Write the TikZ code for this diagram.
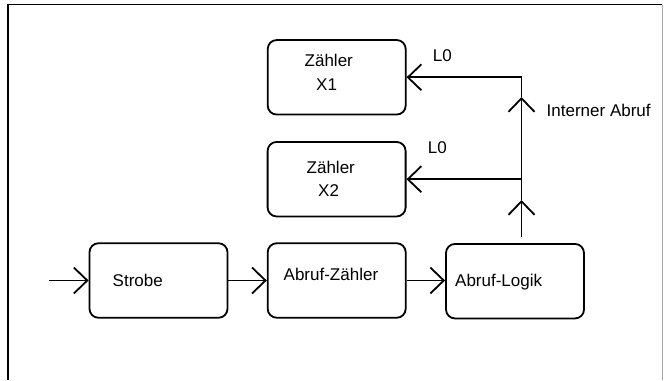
\documentclass[tikz,border=0pt]{standalone}
\usepackage{fontspec}
\setmainfont{Liberation Sans}
\usetikzlibrary{arrows.meta}

\tikzset{
  block/.style={draw, line width=1.8pt, rounded corners=9pt,
    minimum width=138pt, minimum height=74.5pt, inner sep=0pt},
  label/.style={inner sep=0pt, anchor=base west,
    font=\fontsize{17}{19}\selectfont},
  flow/.style={line width=1.8pt,
    -{Straight Barb[length=13.5pt, width=26pt]}},
  plain/.style={line width=1.8pt},
  frame/.style={line width=1.2pt}
}

\begin{document}
\begin{tikzpicture}[x=1pt, y=-1pt]
  \useasboundingbox (0,0) rectangle (666,380);

  % outer frame (left, top and a faint right edge)
  \draw[frame] (8,380) -- (8,4.5) -- (662,4.5);
  \draw[line width=0.6pt, black!35] (662,4.5) -- (662,380);

  % blocks
  \node[block] (x1)  at (336.7,77.3)  {};
  \node[block] (x2)  at (336.6,179.2) {};
  \node[block] (str) at (158.5,280.5) {};
  \node[block] (az)  at (336.7,280.5) {};
  \node[block] (al)  at (515,281.2)   {};

  % block texts
  \node[label] (t1a) at (304.5,66)    {Zähler};
  \node[label] (t1b) at (316,90.5)    {X1};
  \node[label] (t2a) at (306.5,173.5) {Zähler};
  \node[label] (t2b) at (318,196.5)   {X2};
  \node[label] (ts)  at (112.5,286.7) {Strobe};
  \node[label] (tz)  at (283.5,280)   {Abruf-Zähler};
  \node[label] (tl)  at (455,286.7)   {Abruf-Logik};

  % signal labels
  \node[label] (l01) at (432.7,61.7)  {L0};
  \node[label] (l02) at (427.7,153.3) {L0};
  \node[label] (ia)  at (546.5,116)   {Interner Abruf};

  % main chain
  \coordinate (in) at (49,280.5);
  \draw[flow] (in) -- (str.west);
  \draw[flow] (str.east) -- (az.west |- str.east);
  \draw[flow] (az.east) -- (al.west |- az.east);

  % internal request line going up to the counters
  \coordinate (vb) at (521.5,237);
  \coordinate (m2) at (521.5,200);
  \coordinate (j2) at (521.5,179.2);
  \coordinate (m1) at (521.5,97);
  \coordinate (j1) at (521.5,77.3);
  \draw[flow] (vb) -- (m2);
  \draw[flow] (m2) -- (m1);
  \draw[plain, line join=miter] (m1) -- (j1) -- (x1.east);
  \draw[flow] (j1) -- (x1.east);
  \draw[flow] (j2) -- (x2.east);
\end{tikzpicture}
\end{document}
